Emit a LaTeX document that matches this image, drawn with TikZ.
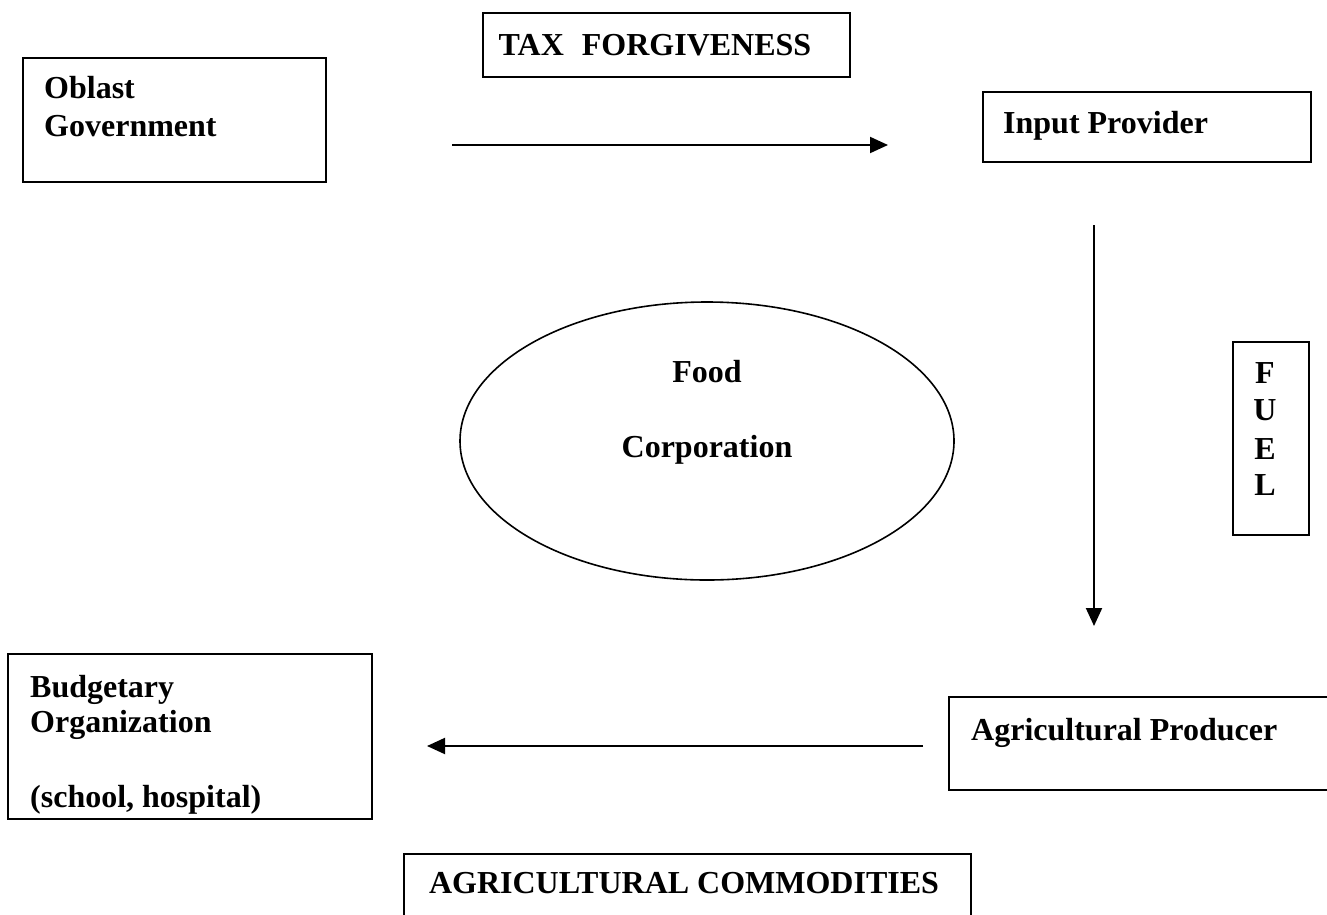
\documentclass[tikz,border=0pt]{standalone}
\usepackage{fontspec}
\setmainfont{Liberation Serif}
\usetikzlibrary{arrows.meta,shapes.geometric}
\begin{document}
\begin{tikzpicture}[x=1pt,y=-1pt,
  box/.style={draw=black,line width=1.8pt},
  lbl/.style={font=\fontsize{32}{38}\selectfont\bfseries,inner sep=0pt,anchor=base west,align=left},
  clbl/.style={font=\fontsize{32}{38}\selectfont\bfseries,inner sep=0pt,anchor=base},
  flow/.style={line width=2pt,-{Triangle[length=18pt,width=16pt]}}]
\clip (0,0) rectangle (1327,914);
\fill[white] (0,0) rectangle (1327,914);
% boxes
\draw[box] (23,58) rectangle (326,182);
\draw[box] (483,13) rectangle (850,77);
\draw[box] (983,92) rectangle (1311,162);
\draw[box] (1233,342) rectangle (1309,535);
\draw[box] (8,654) rectangle (372,819);
\draw[box] (949,697) rectangle (1340,790);
\draw[box] (404,854) rectangle (971,930);
\node[draw=black,line width=1.6pt,ellipse,minimum width=494pt,minimum height=278pt,inner sep=0pt] (food) at (707,441) {};
% texts
\node[lbl] (tOblast) at (44,98) {Oblast};
\node[lbl] (tGov) at (44,136) {Government};
\node[clbl] (tTax) at (655,55) {TAX\hspace{10pt} FORGIVENESS};
\node[lbl] (tInput) at (1003,133) {Input Provider};
\node[clbl] (tFood) at (707,382) {Food};
\node[clbl] (tCorp) at (707,457) {Corporation};
\node[clbl] (tF) at (1265,383) {F};
\node[clbl] (tU) at (1265,420) {U};
\node[clbl] (tE) at (1265,459) {E};
\node[clbl] (tL) at (1265,495) {L};
\node[lbl] (tBud) at (30,697) {Budgetary};
\node[lbl] (tOrg) at (30,732) {Organization};
\node[lbl] (tSch) at (30,807) {(school, hospital)};
\node[lbl] (tAgr) at (971,740) {Agricultural Producer};
\node[clbl] (tComm) at (684,893) {AGRICULTURAL COMMODITIES};
% arrows
\coordinate (a1s) at (452,145);
\coordinate (a1e) at (888,145);
\coordinate (a2s) at (1094,225);
\coordinate (a2e) at (1094,626);
\coordinate (a3s) at (923,746);
\coordinate (a3e) at (427,746);
\draw[flow] (a1s) -- (a1e);
\draw[flow] (a2s) -- (a2e);
\draw[flow] (a3s) -- (a3e);
\end{tikzpicture}
\end{document}
